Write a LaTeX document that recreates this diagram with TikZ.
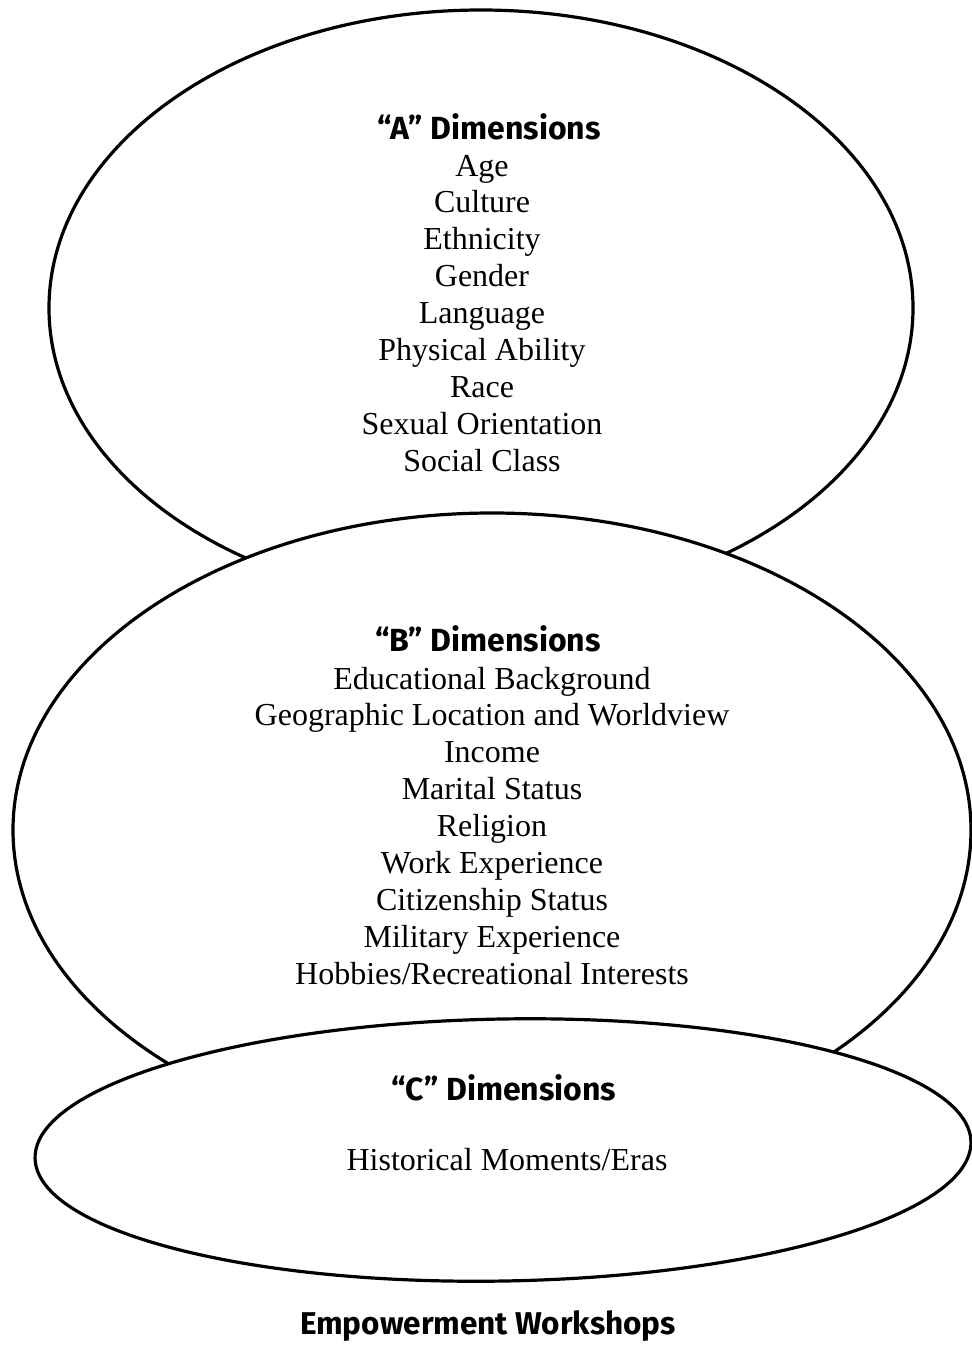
\documentclass[tikz,border=0pt]{standalone}
\usepackage{fontspec}
\setmainfont{Liberation Serif}
\newfontfamily\headfont{Fira Sans}
\usetikzlibrary{shapes.geometric}
\begin{document}
\begin{tikzpicture}[x=1pt,y=-1pt,
  ring/.style={draw=black,fill=white,line width=3.2pt,ellipse,inner sep=0pt,outer sep=0pt},
  entry/.style={anchor=base,inner sep=0pt,font=\fontsize{32}{37}\selectfont},
  heading/.style={anchor=base,inner sep=0pt,font=\headfont\bfseries\fontsize{32}{37}\selectfont},
  caption/.style={anchor=base,inner sep=0pt,font=\headfont\bfseries\fontsize{31.5}{37}\selectfont}]
\useasboundingbox (0,0) rectangle (972,1347);

% three overlapping rings, each later one covering the one before
\node[ring,minimum width=864pt,minimum height=596pt] (ringA) at (481,308) {};
\node[ring,minimum width=958pt,minimum height=634pt] (ringB) at (492,830) {};
\node[ring,minimum width=936pt,minimum height=262pt,rotate=1] (ringC) at (503,1150) {};

% "A" group
\node[heading] (headA) at (489,139) {“A” Dimensions};
\foreach \t [count=\i] in {Age,Culture,Ethnicity,Gender,Language,Physical Ability,Race,Sexual Orientation,Social Class}
  \node[entry] (a\i) at (482,{176+36.9*(\i-1)}) {\t};

% "B" group
\node[heading] (headB) at (488,651) {“B” Dimensions};
\foreach \t [count=\i] in {Educational Background,Geographic Location and Worldview,Income,Marital Status,Religion,Work Experience,Citizenship Status,Military Experience,Hobbies/Recreational Interests}
  \node[entry] (b\i) at (492,{689+36.9*(\i-1)}) {\t};

% "C" group
\node[heading] (headC) at (504,1100) {“C” Dimensions};
\node[entry] (c1) at (507,1170) {Historical Moments/Eras};

\node[caption] (title) at (488,1334) {Empowerment Workshops};
\end{tikzpicture}
\end{document}
